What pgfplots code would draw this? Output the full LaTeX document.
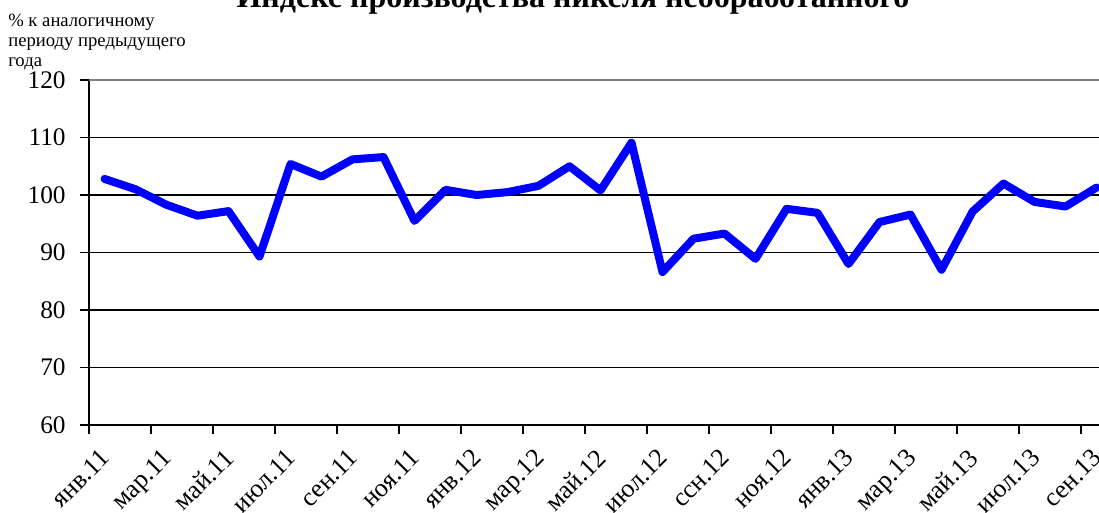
\documentclass[border=0pt]{standalone}
\usepackage{pgfplots}
\pgfplotsset{compat=1.18}
\usepackage{fontspec}
\setmainfont{Liberation Serif}
\begin{document}
\begin{tikzpicture}
\begin{axis}[
  at={(66.75pt,-318.75pt)}, anchor=south west,
  scale only axis, width=767.25pt, height=258.75pt,
  xmin=-0.5, xmax=32.5, ymin=60, ymax=120,
  axis x line*=bottom, axis y line*=left,
  axis line style={-, black, line width=1.5pt},
  ytick={60,70,...,120},
  xtick={-0.5,1.5,...,31.5},
  xticklabels={янв.11,мар.11,май.11,июл.11,сен.11,ноя.11,янв.12,мар.12,май.12,июл.12,ссн.12,ноя.12,янв.13,мар.13,май.13,июл.13,сен.13},
  tick align=outside, major tick length=6.5pt,
  tick style={black, line width=0.9pt},
  ymajorgrids, grid style={black, line width=0.9pt},
  /pgf/number format/assume math mode=true,
  yticklabel style={font=\fontsize{19}{19}\selectfont, xshift=-7.5pt},
  xticklabel style={font=\fontsize{19.5}{19.5}\selectfont, xshift=7.5pt, yshift=-8.5pt, rotate=45, anchor=north east, inner sep=1pt},
  clip=false,
]
\draw[gray, line width=1.5pt] (axis cs:-0.5,120) -- (axis cs:32.5,120);
\addplot[color={rgb,255:red,0;green,0;blue,255}, line width=6pt, line join=round, line cap=round] coordinates {
(0,102.8) (1,101.0) (2,98.3) (3,96.4) (4,97.2) (5,89.3) (6,105.4) (7,103.2) (8,106.2) (9,106.6)
(10,95.5) (11,100.9) (12,100.0) (13,100.5) (14,101.6) (15,105.0) (16,100.8) (17,109.1)
(18,86.6) (19,92.4) (20,93.3) (21,88.9) (22,97.6) (23,96.9) (24,88.0) (25,95.3) (26,96.6)
(27,87.0) (28,97.1) (29,102.0) (30,98.8) (31,98.0) (32,101.3)
};
\end{axis}
\node[anchor=base, font=\bfseries\fontsize{24}{24}\selectfont] at (429.75pt,-5.25pt) {Индекс производства никеля необработанного};
\node[anchor=north west, align=left, inner sep=0pt, font=\fontsize{14}{15}\selectfont] at (6pt,-10.5pt) {\%\ к аналогичному\\периоду предыдущего\\года};
\pgfresetboundingbox
\path (0,0) rectangle (824.25pt,-384pt);
\end{tikzpicture}
\end{document}
